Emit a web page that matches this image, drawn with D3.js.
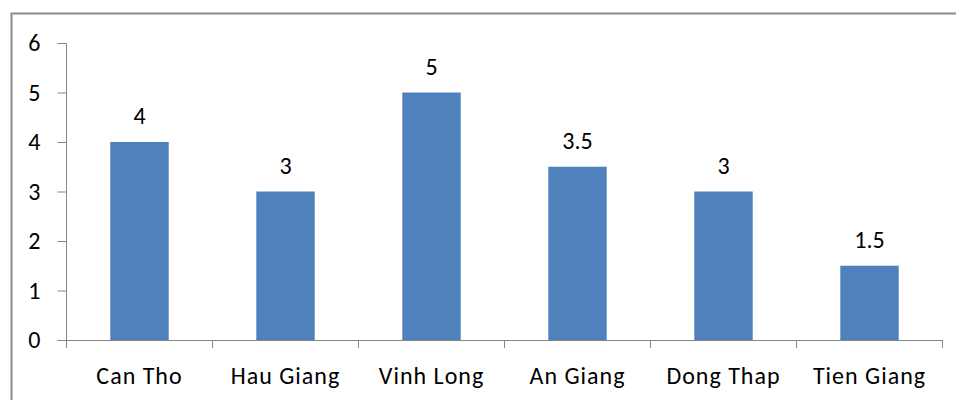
<!DOCTYPE html>
<html><head><meta charset="utf-8">
<script src="https://cdn.jsdelivr.net/npm/d3@7"></script>
<style>body{margin:0;background:#fff}svg{display:block}text{font-family:Calibri,Carlito,Lato,sans-serif;fill:#000}</style>
</head><body><svg width="956" height="400"></svg>
<script>
const categories = ["Can Tho","Hau Giang","Vinh Long","An Giang","Dong Thap","Tien Giang"];
const values = [4, 3, 5, 3.5, 3, 1.5];
const labels = ["4","3","5","3.5","3","1.5"];
const yTicks = [0,1,2,3,4,5,6];

const FS = "24px", LS = "1px";
const svg = d3.select("svg");
svg.append("rect").attr("x",11.5).attr("y",13.5).attr("width",1000).attr("height",500)
  .attr("fill","none").attr("stroke","#8c8c8c").attr("stroke-width",2);

const x0 = 66.5, x1 = 942.5, yTop = 43, yBot = 340;
const x = d3.scaleBand().domain(categories).range([x0,x1]).paddingInner(0.6).paddingOuter(0.3);
const y = d3.scaleLinear().domain([0,6]).range([yBot,yTop]);

svg.selectAll("rect.bar").data(values).join("rect").attr("class","bar")
  .attr("x",(d,i)=>x(categories[i])).attr("width",x.bandwidth())
  .attr("y",d=>y(d)).attr("height",d=>yBot-y(d)).attr("fill","#4f81bd");

// y axis
const yAxis = svg.append("g").attr("transform",`translate(${x0},0)`)
  .call(d3.axisLeft(y).tickValues(yTicks).tickSize(9).tickPadding(17).tickFormat(d3.format("d")));
yAxis.select(".domain").attr("stroke","#868686").attr("d",`M-0,${yTop}V${yBot}`);
yAxis.selectAll(".tick line").attr("stroke","#868686");
yAxis.selectAll("text").style("font-size",FS).attr("fill","#000");

// x axis
const step = x.step();
const bounds = d3.range(categories.length+1).map(i=>x0 + i*step);
const xg = svg.append("g");
xg.append("line").attr("x1",x0-9).attr("x2",x1).attr("y1",yBot+0.5).attr("y2",yBot+0.5).attr("stroke","#868686");
xg.selectAll("line.t").data(bounds).join("line").attr("class","t")
  .attr("x1",d=>d).attr("x2",d=>d).attr("y1",yBot).attr("y2",yBot+8).attr("stroke","#868686");
xg.selectAll("text").data(categories).join("text")
  .attr("x",d=>x(d)+x.bandwidth()/2).attr("y",384).attr("text-anchor","middle")
  .style("font-size",FS).style("letter-spacing",LS).text(d=>d);

// data labels
svg.selectAll("text.lab").data(values).join("text").attr("class","lab")
  .attr("x",(d,i)=>x(categories[i])+x.bandwidth()/2).attr("y",d=>y(d)-18)
  .attr("text-anchor","middle").style("font-size",FS).text((d,i)=>labels[i]);
</script></body></html>
